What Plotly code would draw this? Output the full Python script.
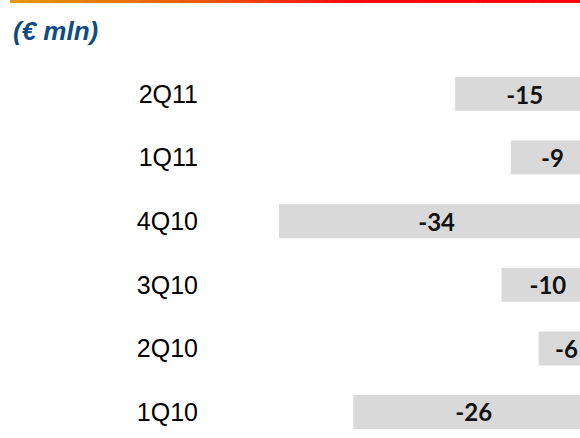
import plotly.graph_objects as go

quarters = ["2Q11", "1Q11", "4Q10", "3Q10", "2Q10", "1Q10"]
values = [-15, -9, -34, -10, -6, -26]
value_labels = ["-15", "-9", "-34", "-10", "-6", "-26"]
unit_label = "(€ mln)"

W, H = 580, 438
ML, MR, MT, MB = 202, 0, 50, 0
PW = W - ML - MR
PH = H - MT - MB

def px_x(p):
    return (p - ML) / PW

def px_y(p):
    return 1 - (p - MT) / PH

fig = go.Figure()
fig.add_trace(go.Bar(
    y=quarters,
    x=values,
    orientation="h",
    marker=dict(color="#D9D9D9", line=dict(width=0)),
    text=value_labels,
    textposition="inside",
    insidetextanchor="middle",
    textangle=0,
    constraintext="none",
    textfont=dict(family="Lato", size=24, color="#111111", weight="bold"),
    width=0.535,
    cliponaxis=True,
    hoverinfo="skip",
))

# gradient rule at the top
shapes = []
n = 80
x0p, x1p = 10, 580
stops = [(0.0, (230, 150, 15)), (0.35, (235, 85, 10)), (0.6, (250, 10, 5)), (1.0, (255, 0, 0))]

def col(t):
    for (t0, c0), (t1, c1) in zip(stops[:-1], stops[1:]):
        if t <= t1:
            f = (t - t0) / (t1 - t0) if t1 > t0 else 0
            return "rgb(%d,%d,%d)" % tuple(round(a + (b - a) * f) for a, b in zip(c0, c1))
    return "rgb(255,0,0)"

for i in range(n):
    a = x0p + (x1p - x0p) * i / n
    b = x0p + (x1p - x0p) * (i + 1) / n + 0.6
    shapes.append(dict(type="rect", xref="paper", yref="paper",
                       x0=px_x(a), x1=px_x(b), y0=px_y(3), y1=px_y(0),
                       fillcolor=col(i / (n - 1)), line=dict(width=0), layer="above"))

fig.update_layout(
    width=W, height=H,
    margin=dict(l=ML, r=MR, t=MT, b=MB, pad=0),
    paper_bgcolor="white", plot_bgcolor="white",
    showlegend=False,
    bargap=0.465,
    shapes=shapes,
    xaxis=dict(range=[-42.3, -1.54], visible=False, fixedrange=True),
    yaxis=dict(type="category", categoryorder="array", categoryarray=quarters,
               range=[5.409, -0.692], showgrid=False, zeroline=False, showline=False,
               ticks="", ticklabelstandoff=3,
               tickfont=dict(family="Arial", size=25, color="#000000"),
               fixedrange=True),
    annotations=[dict(text="<b><i>" + unit_label + "</i></b>", xref="paper", yref="paper",
                      x=px_x(11), y=px_y(31), xanchor="left", yanchor="middle",
                      showarrow=False,
                      font=dict(family="Arial", size=26, color="#0F4C81"))],
)

fig.write_html(
    "out.html",
    config={"displayModeBar": False},
    post_script="document.body.style.margin='0';document.body.style.overflow='hidden';",
)
